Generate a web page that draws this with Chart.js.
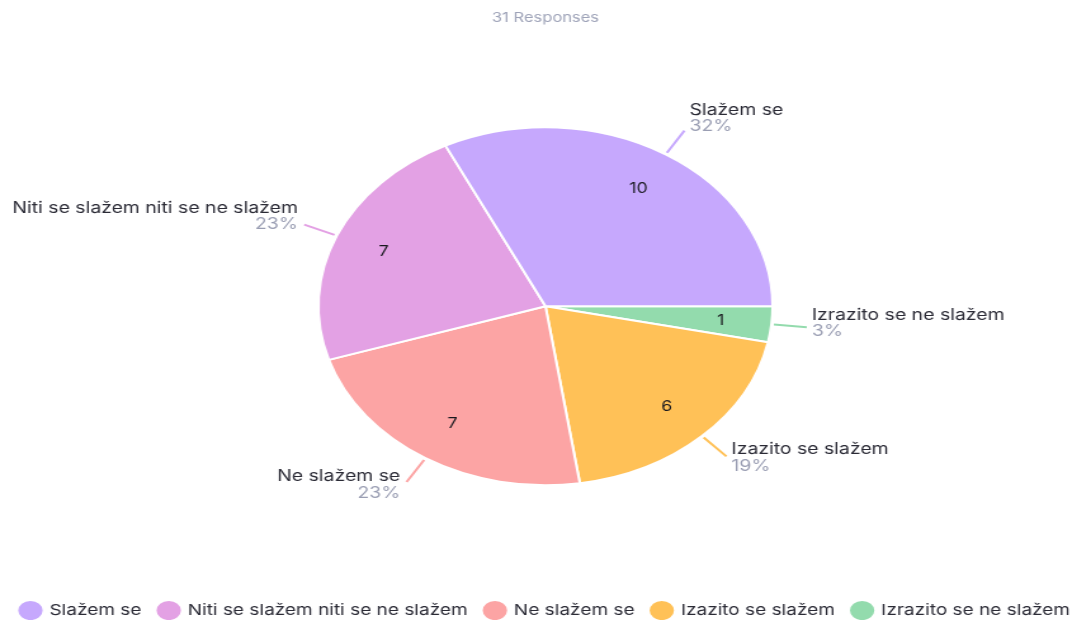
<!DOCTYPE html>
<html>
<head>
<meta charset="utf-8">
<script src="https://cdn.jsdelivr.net/npm/chart.js@4.4.1/dist/chart.umd.min.js"></script>
<style>
  html, body { margin: 0; padding: 0; background: #fff; overflow: hidden; }
  /* the reference is stretched horizontally, so draw narrow and scale */
  #wrap { width: 860px; height: 620px; transform: scaleX(1.2686); transform-origin: 0 0; }
</style>
</head>
<body>
<div id="wrap"><canvas id="pieChart"></canvas></div>
<script>
// Odgovori (redoslijed crtanja, od 3 sata u smjeru kazaljke)
const categories = ['Izrazito se ne slažem', 'Izazito se slažem', 'Ne slažem se', 'Niti se slažem niti se ne slažem', 'Slažem se'];
const counts = [1, 6, 7, 7, 10];
const sliceColors = ['#93dbad', '#ffc157', '#fca4a4', '#e3a1e4', '#c6a8fd'];
const titleText = '31 Responses';

const FONT = 'Inter, "Noto Sans", sans-serif';
const total = counts.reduce((a, b) => a + b, 0);

const labelPlugin = {
    id: 'sliceLabels',
    afterDatasetsDraw(chart) {
        const ctx = chart.ctx;
        const meta = chart.getDatasetMeta(0);
        ctx.save();
        meta.data.forEach((arc, i) => {
            const mid = (arc.startAngle + arc.endAngle) / 2;
            const R = arc.outerRadius;
            const cos = Math.cos(mid), sin = Math.sin(mid);

            // broj unutar isjecka
            ctx.fillStyle = '#18181e';
            ctx.font = '14px ' + FONT;
            ctx.textAlign = 'center';
            ctx.textBaseline = 'middle';
            ctx.fillText(counts[i], arc.x + cos * R * 0.775, arc.y + sin * R * 0.775);

            // linija prema van
            const x1 = arc.x + cos * (R + 2), y1 = arc.y + sin * (R + 2);
            const x2 = arc.x + cos * (R + 28), y2 = arc.y + sin * (R + 28);
            ctx.strokeStyle = sliceColors[i];
            ctx.lineWidth = 2;
            ctx.beginPath();
            ctx.moveTo(x1, y1);
            ctx.lineTo(x2, y2);
            ctx.stroke();

            const right = cos >= 0;
            const tx = right ? x2 + 4 : x2 - 5;
            const nameY = y2 - 13 + 9 * sin;
            ctx.textAlign = right ? 'left' : 'right';
            ctx.font = '15.3px ' + FONT;
            ctx.fillStyle = '#2a2a35';
            ctx.fillText(categories[i], tx, nameY);
            ctx.fillStyle = '#9a9eb3';
            ctx.fillText(Math.round(counts[i] / total * 100) + '%', tx, nameY + 16.5);
        });
        ctx.restore();
    }
};

const config = {
    type: 'pie',
    data: {
        labels: categories,
        datasets: [{
            data: counts,
            backgroundColor: sliceColors,
            borderColor: '#ffffff',
            borderWidth: 2
        }]
    },
    options: {
        responsive: true,
        maintainAspectRatio: false,
        animation: false,
        rotation: 90,
        radius: 179,
        layout: { padding: { top: 0, bottom: -8, left: 0, right: 0 } },
        plugins: {
            title: {
                display: true,
                text: titleText,
                color: '#9ea3b8',
                font: { family: FONT, size: 13, weight: 'normal' },
                padding: { top: 10, bottom: -2 }
            },
            legend: {
                position: 'bottom',
                reverse: true,
                labels: {
                    usePointStyle: true,
                    pointStyle: 'circle',
                    boxWidth: 16,
                    boxHeight: 15,
                    padding: 14,
                    color: '#2a2a35',
                    font: { family: FONT, size: 15 }
                }
            },
            tooltip: { enabled: false }
        }
    },
    plugins: [labelPlugin]
};

const ctx = document.getElementById('pieChart').getContext('2d');
const pieChart = new Chart(ctx, config);
</script>
</body>
</html>
